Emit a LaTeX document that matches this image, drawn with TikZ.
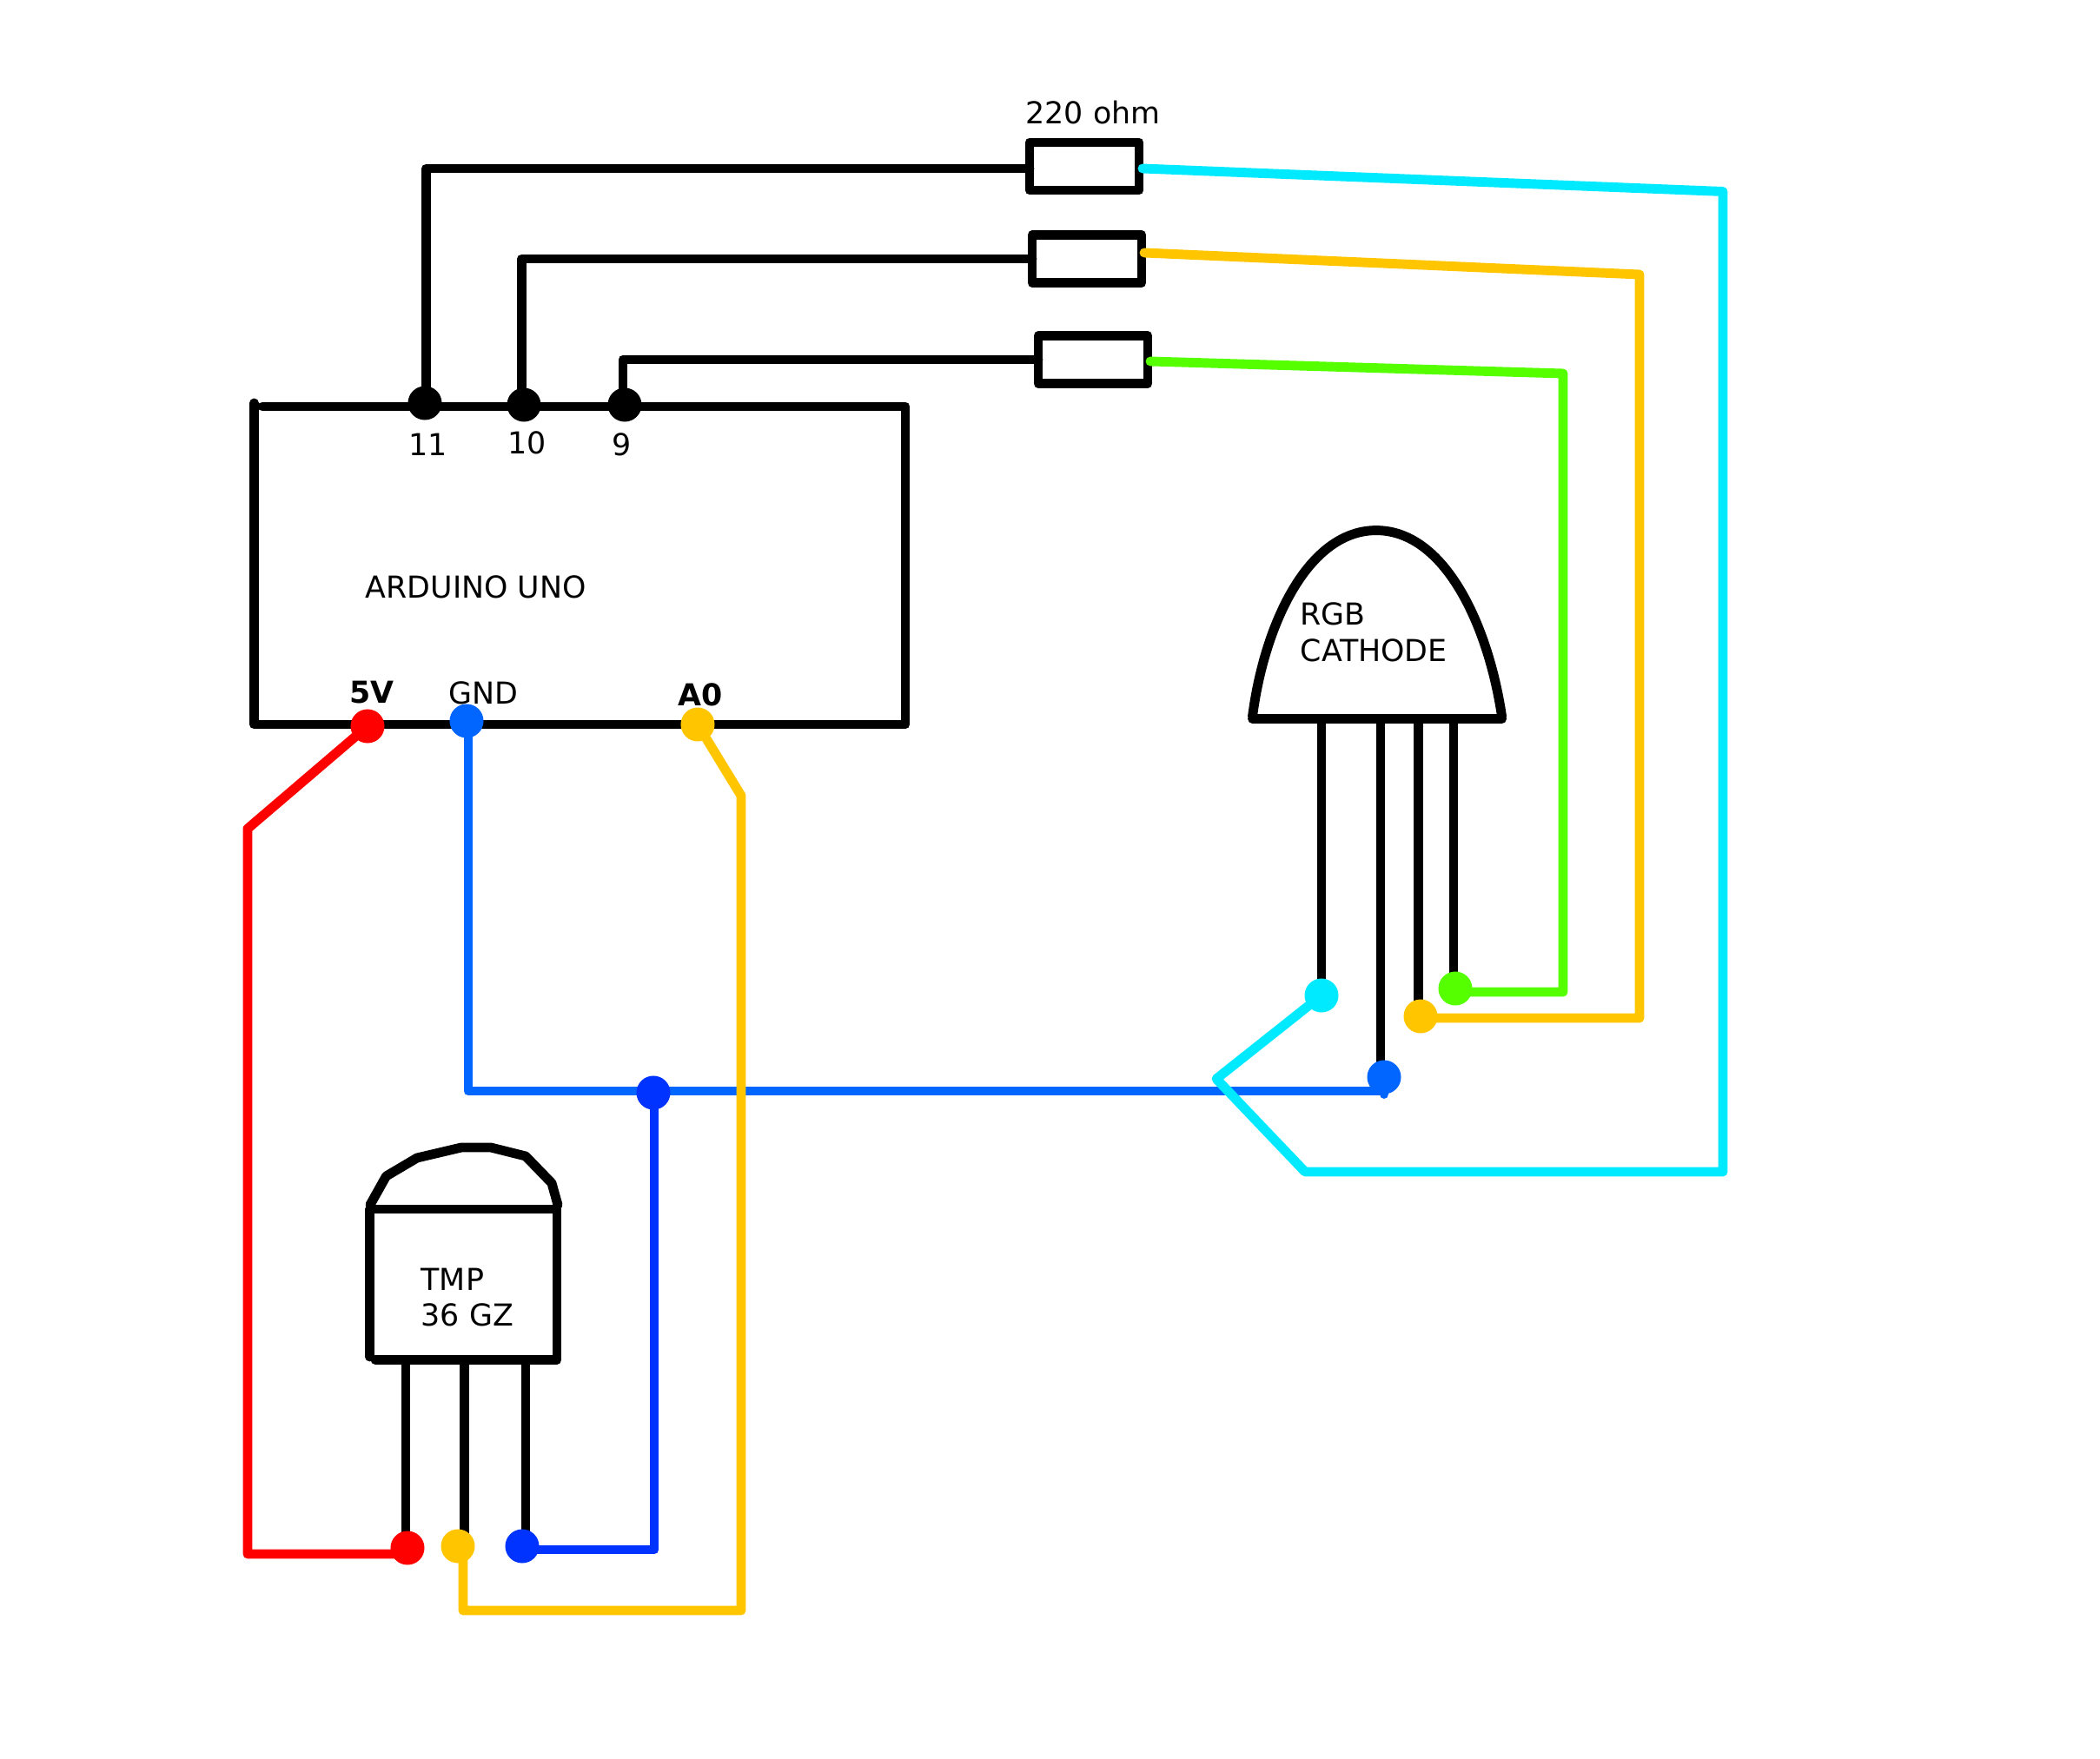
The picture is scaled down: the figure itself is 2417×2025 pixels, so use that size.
\documentclass[tikz,border=0pt]{standalone}
\usepackage{fontspec}
\setmainfont{DejaVu Sans}
\usetikzlibrary{positioning,shapes}
\definecolor{wirered}{HTML}{FF0000}
\definecolor{wireblue}{HTML}{0066FF}
\definecolor{wiredeep}{HTML}{0033FF}
\definecolor{wireyellow}{HTML}{FFC600}
\definecolor{wiregreen}{HTML}{55FF00}
\definecolor{wirecyan}{HTML}{00EAFF}
\tikzset{line/.style={line width=3.1pt,line cap=round,line join=round},
wire/.style={line,color=#1},
pinleg/.style={line,line cap=butt},
dot/.style={circle,fill=#1,inner sep=0pt,outer sep=0pt,minimum size=0.39cm},
res/.style={line,draw,rectangle,inner sep=0pt,outer sep=0pt,minimum width=1.26cm,minimum height=0.55cm},
txt/.style={inner sep=0pt,font=\fontsize{9.9pt}{11.9pt}\selectfont,align=left},
txtbold/.style={txt,font=\fontsize{9.9pt}{11.9pt}\selectfont\bfseries}}
\begin{document}
\begin{tikzpicture}[x=0.01cm,y=-0.01cm]
\useasboundingbox (0,0) rectangle (2417,2025);
% arduino
\draw[line] (292.5,464) -- (292.5,834) -- (1042,834) -- (1042,468) -- (302,468);
\node[txt,anchor=west] (uno) at (420,676) {ARDUINO UNO};
\node[txt] (lab11) at (493,512) {11};
\node[txt] (lab10) at (607,510) {10};
\node[txt] (lab9) at (716,512) {9};
\node[txtbold] (lab5v) at (428,797) {5V};
\node[txt] (labgnd) at (556.5,798) {GND};
\node[txtbold] (laba0) at (806,800) {A0};
\node[dot=black] (p11) at (489,464) {};
\node[dot=black] (p10) at (603,466) {};
\node[dot=black] (p9) at (719,466) {};
% resistors
\node[res] (res1) at (1248,191.5) {};
\node[res] (res2) at (1251,298) {};
\node[res] (res3) at (1258,414) {};
\node[txt] (ohm) at (1258,129.5) {220 ohm};
\coordinate (c11) at (490.5,194);
\coordinate (c10) at (600.5,298);
\coordinate (c9) at (717,414);
\draw[line] (c11 |- p11) -- (c11) -- (c11 -| res1.west);
\draw[line] (c10 |- p10) -- (c10) -- (c10 -| res2.west);
\draw[line] (c9 |- p9) -- (c9) -- (c9 -| res3.west);
% led
\draw[line] (1441.5,825) .. controls (1455,720) and (1505,610.6) .. (1584,610.6)
  .. controls (1663,610.6) and (1713,720) .. (1728.6,825);
\draw[line] (1441.5,827.5) -- (1728.6,827.5);
\node[txt,anchor=north west] (rgb) at (1496,693) {RGB\\CATHODE};
\coordinate (ledr) at (1521,1146);
\coordinate (ledk) at (1589,1240);
\coordinate (ledb) at (1632.5,1170);
\coordinate (ledg) at (1673,1138);
\draw[pinleg] (ledr |- 0,827) -- (ledr);
\draw[pinleg] (ledk |- 0,827) -- (ledk);
\draw[pinleg] (ledb |- 0,827) -- (ledb);
\draw[pinleg] (ledg |- 0,827) -- (ledg);
% tmp
\draw[line] (425.5,1562) -- (425.5,1392) -- (641,1392) -- (641,1565.5) -- (432,1565.5);
\draw[line] (426,1387) -- (444.5,1354) -- (480,1333) -- (531,1321) -- (565,1321)
  -- (605,1331) -- (635,1362) -- (642,1387);
\node[txt,anchor=north west] (tmp) at (484,1459) {TMP\\36 GZ};
\coordinate (tmpa) at (467,1782);
\coordinate (tmpb) at (534.5,1780);
\coordinate (tmpc) at (605,1780);
\draw[pinleg] (tmpa |- 0,1565) -- (tmpa);
\draw[pinleg] (tmpb |- 0,1565) -- (tmpb);
\draw[pinleg] (tmpc |- 0,1565) -- (tmpc);
% blue wire under the other dots
\node[dot=wireblue] (dgnd) at (537,830) {};
\node[dot=wireblue] (dledk) at (1593,1240) {};
\coordinate (b1) at (539,1256);
\coordinate (b2) at (1593,1256);
\draw[wire=wireblue] (b1 |- dgnd) -- (b1) -- (b2) -- (dledk);
% dots
\node[dot=wirered] (d5v) at (423,836) {};
\node[dot=wireyellow] (da0) at (803,834) {};
\node[dot=wiredeep] (djoin) at (752,1258) {};
\node[dot=wirecyan] (dledr) at (1521,1146) {};
\node[dot=wireyellow] (dledb) at (1635,1170) {};
\node[dot=wiregreen] (dledg) at (1675,1138) {};
\node[dot=wirered] (dtmpa) at (469,1782) {};
\node[dot=wireyellow] (dtmpb) at (527,1780) {};
\node[dot=wiredeep] (dtmpc) at (601,1780) {};
% wires
\coordinate (r1) at (285,954);
\coordinate (r2) at (285,1789);
\draw[wire=wirered] (d5v) -- (r1) -- (r2) -- (r2 -| dtmpa);
\coordinate (y1) at (853,916);
\coordinate (y2) at (853,1854);
\coordinate (y3) at (533,1854);
\draw[wire=wireyellow] (da0) -- (y1) -- (y2) -- (y3) -- (y3 |- dtmpb);
\coordinate (e1) at (753,1784);
\draw[wire=wiredeep] (e1 |- djoin) -- (e1) -- (e1 -| dtmpc);
\coordinate (s0) at (1315,194);
\coordinate (s1) at (1983,220.5);
\coordinate (s2) at (1983,1349);
\coordinate (s3) at (1502,1349);
\coordinate (s4) at (1400,1242);
\draw[wire=wirecyan] (s0) -- (s1) -- (s2) -- (s3) -- (s4) -- (dledr);
\coordinate (o0) at (1317,291);
\coordinate (o1) at (1887,316);
\coordinate (o2) at (1887,1172);
\draw[wire=wireyellow] (o0) -- (o1) -- (o2) -- (o2 -| dledb);
\coordinate (g0) at (1324,416);
\coordinate (g1) at (1799,430);
\coordinate (g2) at (1799,1142);
\draw[wire=wiregreen] (g0) -- (g1) -- (g2) -- (g2 -| dledg);
\end{tikzpicture}
\end{document}
